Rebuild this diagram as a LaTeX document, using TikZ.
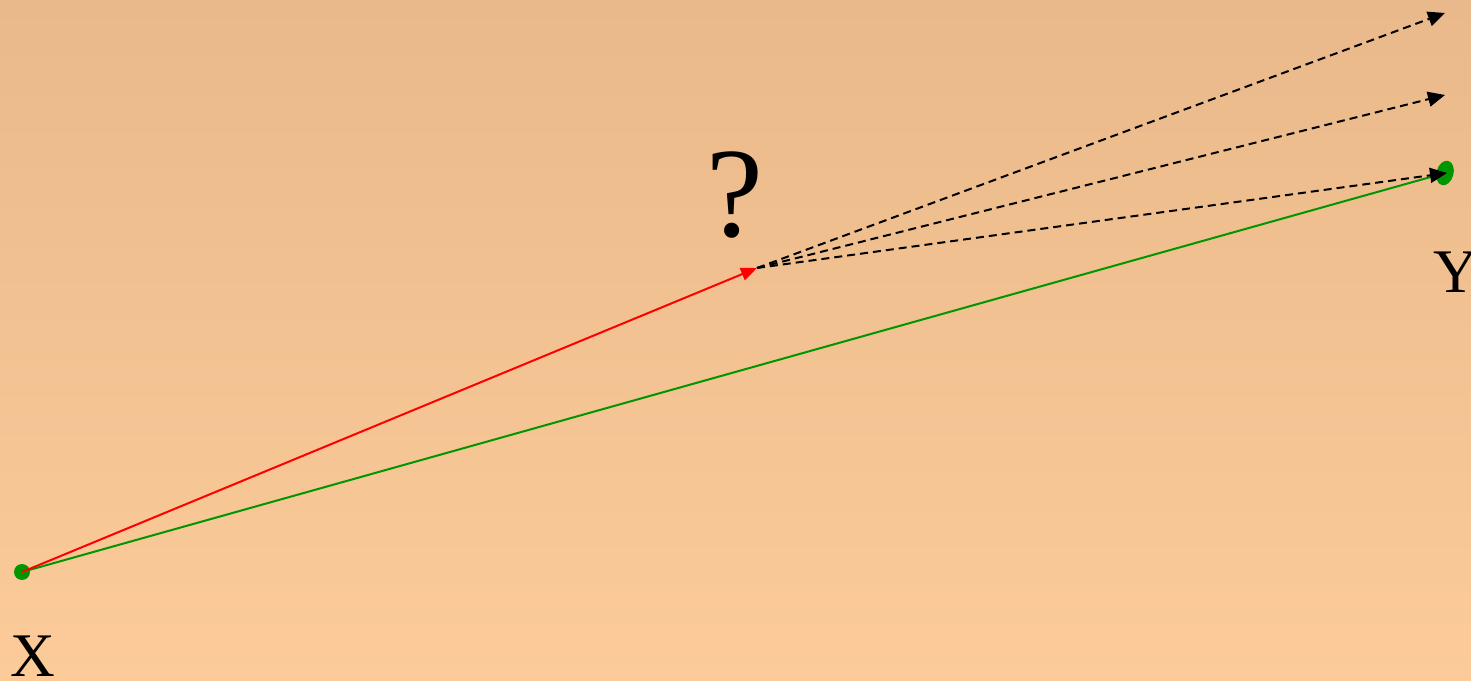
\documentclass[tikz,border=0pt]{standalone}
\usepackage{fontspec}
\setmainfont{Liberation Serif}
\usetikzlibrary{arrows.meta,shapes.geometric}
\definecolor{bgtop}{RGB}{233,185,139}
\definecolor{bgbot}{RGB}{252,203,153}
\definecolor{dotgreen}{RGB}{0,150,0}
\begin{document}
\begin{tikzpicture}[x=0.5pt,y=0.5pt,
  lbl/.style={font=\fontsize{31}{33}\selectfont, inner sep=0},
  dasharrow/.style={black, line width=1pt, dash pattern=on 4pt off 2.5pt, -{Triangle[length=8.5pt,width=7.5pt]}},
  redarrow/.style={red, line width=1pt, -{Triangle[length=8pt,width=6.5pt]}},
  greenline/.style={dotgreen, line width=1pt}]
\shade[top color=bgtop, bottom color=bgbot] (0,0) rectangle (1471,680);
\useasboundingbox (0,0) rectangle (1471,680);
\node[circle, fill=dotgreen, inner sep=0, minimum size=8pt] (x) at (22,108) {};
\node[ellipse, fill=dotgreen, inner sep=0, minimum width=8.5pt, minimum height=12.5pt, rotate=-15] (y) at (1445,507) {};
\coordinate (m) at (757,412);
\coordinate (t1) at (1445,667);
\coordinate (t2) at (1445,585);
\coordinate (t3) at (1447,507);
\draw[greenline] (x.center) -- (y.center);
\draw[redarrow] (x.center) -- (m);
\draw[dasharrow] (m) -- (t1);
\draw[dasharrow] (m) -- (t2);
\draw[dasharrow] (m) -- (t3);
\node[lbl, font=\fontsize{64}{70}\selectfont] (q) at (735,485) {?};
\node[lbl] (xl) at (33,24) {X};
\node[lbl] (yl) at (1456,408) {Y};
\end{tikzpicture}
\end{document}
